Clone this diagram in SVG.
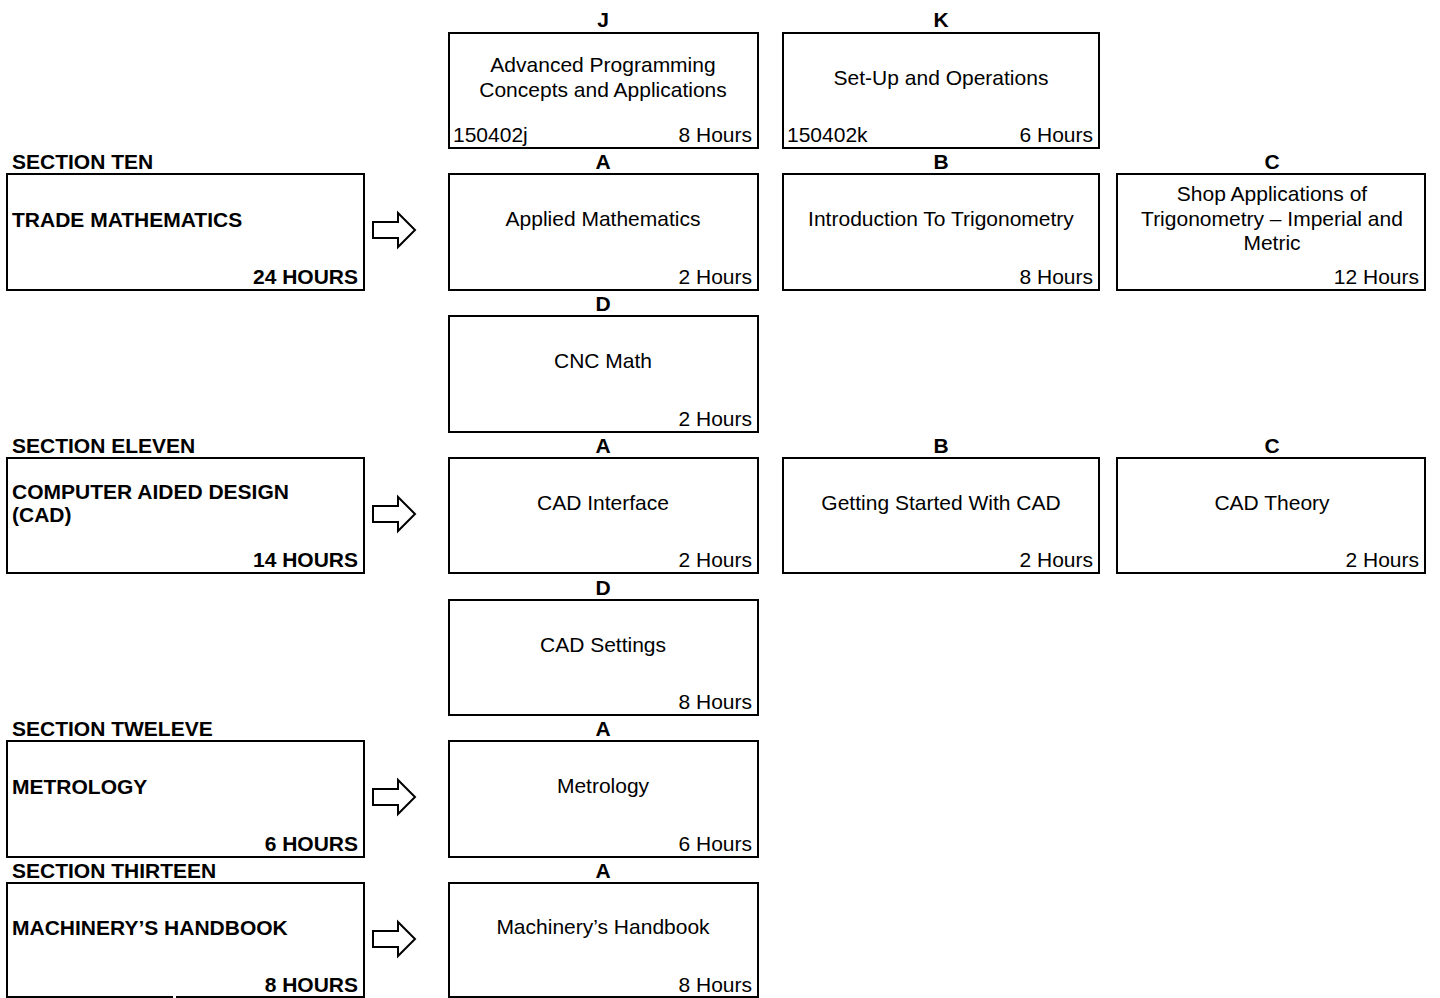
<svg xmlns="http://www.w3.org/2000/svg" width="1440" height="998" viewBox="0 0 1440 998">
<style>
.box{fill:#fff;stroke:#000;stroke-width:2}
text{font-family:"Liberation Sans",Arial,sans-serif;font-size:21px;fill:#000}
.b{font-weight:bold}
.m{text-anchor:middle}
.e{text-anchor:end}
.arr{fill:#fff;stroke:#000;stroke-width:2;stroke-linejoin:miter}
</style>
<defs>
<path id="blk" class="arr" d="M0,-8 H25 V-17 L42,0 L25,17 V8 H0 Z"/>
</defs>
<rect width="1440" height="998" fill="#fff"/>

<g id="connectors">
<use href="#blk" transform="translate(373,230)"/>
<use href="#blk" transform="translate(373,514)"/>
<use href="#blk" transform="translate(373,797)"/>
<use href="#blk" transform="translate(373,939)"/>
</g>

<g id="j-planning">
<text class="b m" x="603" y="27">J</text>
<rect class="box" x="449" y="33" width="309" height="115"/>
<text class="m" x="603" y="72">Advanced Programming</text>
<text class="m" x="603" y="97">Concepts and Applications</text>
<text x="453" y="142">150402j</text>
<text class="e" x="752" y="142">8 Hours</text>
</g>
<g id="k-setup">
<text class="b m" x="941" y="27">K</text>
<rect class="box" x="783" y="33" width="316" height="115"/>
<text class="m" x="941" y="85">Set-Up and Operations</text>
<text x="787" y="142">150402k</text>
<text class="e" x="1093" y="142">6 Hours</text>
</g>

<g id="section-ten">
<text class="b" x="12" y="169">SECTION TEN</text>
<rect class="box" x="7" y="174" width="357" height="116"/>
<text class="b" x="12" y="227">TRADE MATHEMATICS</text>
<text class="b e" x="358" y="284">24 HOURS</text>
</g>
<g id="ten-a">
<text class="b m" x="603" y="169">A</text>
<rect class="box" x="449" y="174" width="309" height="116"/>
<text class="m" x="603" y="226">Applied Mathematics</text>
<text class="e" x="752" y="284">2 Hours</text>
</g>
<g id="ten-b">
<text class="b m" x="941" y="169">B</text>
<rect class="box" x="783" y="174" width="316" height="116"/>
<text class="m" x="941" y="226">Introduction To Trigonometry</text>
<text class="e" x="1093" y="284">8 Hours</text>
</g>
<g id="ten-c">
<text class="b m" x="1272" y="169">C</text>
<rect class="box" x="1117" y="174" width="308" height="116"/>
<text class="m" x="1272" y="201">Shop Applications of</text>
<text class="m" x="1272" y="226">Trigonometry – Imperial and</text>
<text class="m" x="1272" y="250">Metric</text>
<text class="e" x="1419" y="284">12 Hours</text>
</g>
<g id="ten-d">
<text class="b m" x="603" y="311">D</text>
<rect class="box" x="449" y="316" width="309" height="116"/>
<text class="m" x="603" y="368">CNC Math</text>
<text class="e" x="752" y="426">2 Hours</text>
</g>

<g id="section-eleven">
<text class="b" x="12" y="453">SECTION ELEVEN</text>
<rect class="box" x="7" y="458" width="357" height="115"/>
<text class="b" x="12" y="499">COMPUTER AIDED DESIGN</text>
<text class="b" x="12" y="522">(CAD)</text>
<text class="b e" x="358" y="567">14 HOURS</text>
</g>
<g id="eleven-a">
<text class="b m" x="603" y="453">A</text>
<rect class="box" x="449" y="458" width="309" height="115"/>
<text class="m" x="603" y="510">CAD Interface</text>
<text class="e" x="752" y="567">2 Hours</text>
</g>
<g id="eleven-b">
<text class="b m" x="941" y="453">B</text>
<rect class="box" x="783" y="458" width="316" height="115"/>
<text class="m" x="941" y="510">Getting Started With CAD</text>
<text class="e" x="1093" y="567">2 Hours</text>
</g>
<g id="eleven-c">
<text class="b m" x="1272" y="453">C</text>
<rect class="box" x="1117" y="458" width="308" height="115"/>
<text class="m" x="1272" y="510">CAD Theory</text>
<text class="e" x="1419" y="567">2 Hours</text>
</g>
<g id="eleven-d">
<text class="b m" x="603" y="595">D</text>
<rect class="box" x="449" y="600" width="309" height="115"/>
<text class="m" x="603" y="652">CAD Settings</text>
<text class="e" x="752" y="709">8 Hours</text>
</g>

<g id="section-twelve">
<text class="b" x="12" y="736">SECTION TWELEVE</text>
<rect class="box" x="7" y="741" width="357" height="116"/>
<text class="b" x="12" y="794">METROLOGY</text>
<text class="b e" x="358" y="851">6 HOURS</text>
</g>
<g id="twelve-a">
<text class="b m" x="603" y="736">A</text>
<rect class="box" x="449" y="741" width="309" height="116"/>
<text class="m" x="603" y="793">Metrology</text>
<text class="e" x="752" y="851">6 Hours</text>
</g>

<g id="section-thirteen">
<text class="b" x="12" y="878">SECTION THIRTEEN</text>
<rect class="box" x="7" y="883" width="357" height="114"/>
<rect x="173" y="994" width="3" height="4" fill="#fff"/>
<text class="b" x="12" y="935">MACHINERY’S HANDBOOK</text>
<text class="b e" x="358" y="992">8 HOURS</text>
</g>
<g id="thirteen-a">
<text class="b m" x="603" y="878">A</text>
<rect class="box" x="449" y="883" width="309" height="114"/>
<text class="m" x="603" y="934">Machinery’s Handbook</text>
<text class="e" x="752" y="992">8 Hours</text>
</g>
</svg>
